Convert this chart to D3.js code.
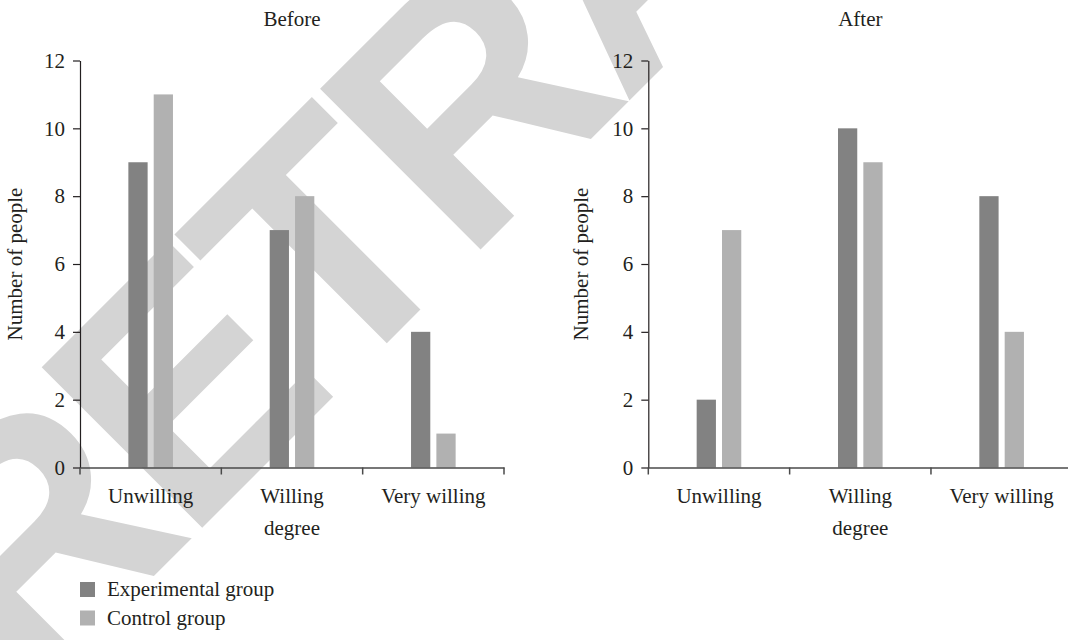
<!DOCTYPE html>
<html>
<head>
<meta charset="utf-8">
<script src="https://cdn.jsdelivr.net/npm/d3@7"></script>
<style>
  html, body { margin: 0; padding: 0; background: #fff; }
  svg { display: block; }
</style>
</head>
<body>
<svg id="chart" width="1068" height="640"></svg>
<script>
// Willingness levels on the x axis
const categories = ["Unwilling", "Willing", "Very willing"];
const groups = ["Experimental group", "Control group"];

// Number of people per willingness level, before and after
const beforeExperimental = [9, 7, 4];
const beforeControl = [11, 8, 1];
const afterExperimental = [2, 10, 8];
const afterControl = [7, 9, 4];

const yTicks = [0, 2, 4, 6, 8, 10, 12];
const panelTitles = ["Before", "After"];
const yAxisTitle = "Number of people";
const xAxisTitle = "degree";
const stampText = "RETRACTED";

const colors = { "Experimental group": "#828282", "Control group": "#b1b1b1" };
const serif = "'Liberation Serif', 'Times New Roman', serif";
const ink = "#231f20";

const svg = d3.select("#chart");

// Retraction stamp across the figure, behind the charts
svg.append("text")
  .attr("transform", "translate(28,702) rotate(-45)")
  .style("font-family", "'Liberation Sans', Arial, sans-serif")
  .style("font-weight", "bold")
  .style("font-size", "330px")
  .style("letter-spacing", "-14px")
  .style("fill", "#d4d4d4")
  .text(stampText);

const plotTop = 60.5, plotBottom = 467.5;
const y = d3.scaleLinear().domain([0, 12]).range([plotBottom, plotTop]);

function drawPanel(left, right, title, expVals, ctrlVals, labelX) {
  const g = svg.append("g");
  const x = d3.scaleBand().domain(categories).range([left, right]).padding(0);
  const bw = x.bandwidth();
  const x1 = d3.scaleBand().domain(groups)
    .range([bw / 2 - 22.3, bw / 2 + 22.3]).paddingInner(0.24);

  const rows = categories.map((c, i) => ({ c, v: [expVals[i], ctrlVals[i]] }));

  // bars
  const cat = g.selectAll("g.cat").data(rows).enter().append("g")
    .attr("transform", d => `translate(${x(d.c)},0)`);
  cat.selectAll("rect").data(d => groups.map((k, j) => ({ k, v: d.v[j] })))
    .enter().append("rect")
    .attr("x", d => x1(d.k))
    .attr("width", x1.bandwidth())
    .attr("y", d => y(d.v))
    .attr("height", d => y(0) - y(d.v))
    .attr("fill", d => colors[d.k]);

  // y axis
  const ya = g.append("g").attr("transform", `translate(${left},0)`)
    .call(d3.axisLeft(y).tickValues(yTicks).tickSize(7).tickPadding(8).tickSizeOuter(0));
  ya.attr("font-family", null).attr("font-size", null);
  ya.select(".domain").attr("stroke", ink).attr("stroke-width", 1.2);
  ya.selectAll(".tick line").attr("stroke", ink).attr("stroke-width", 1.2);
  ya.selectAll(".tick text").attr("class", "lbl");

  // x axis: baseline with ticks at the category boundaries
  const xa = g.append("g").attr("transform", `translate(0,${plotBottom})`)
    .call(d3.axisBottom(x).tickSize(0).tickPadding(35).tickSizeOuter(0));
  xa.attr("font-family", null).attr("font-size", null);
  xa.select(".domain").attr("stroke", "#4a4a4a").attr("stroke-width", 1.5);
  xa.selectAll(".tick text").attr("class", "lbl").attr("dy", 0);
  const bounds = categories.map(c => x(c)).concat([right]);
  g.selectAll("line.sep").data(bounds).enter().append("line")
    .attr("x1", d => d).attr("x2", d => d)
    .attr("y1", plotBottom).attr("y2", plotBottom + 7)
    .attr("stroke", "#4a4a4a").attr("stroke-width", 1.5);

  // panel title
  g.append("text").attr("class", "lbl").attr("x", (left + right) / 2).attr("y", 26)
    .attr("text-anchor", "middle").text(title);

  // x axis title
  g.append("text").attr("class", "lbl").attr("x", (left + right) / 2).attr("y", 535)
    .attr("text-anchor", "middle").text(xAxisTitle);

  // y axis title
  g.append("text").attr("class", "lbl")
    .attr("transform", `translate(${labelX},${(plotTop + plotBottom) / 2}) rotate(-90)`)
    .attr("text-anchor", "middle").text(yAxisTitle);
}

drawPanel(80, 504, panelTitles[0], beforeExperimental, beforeControl, 22);
drawPanel(648.3, 1072.3, panelTitles[1], afterExperimental, afterControl, 588);

// legend
const legend = svg.append("g").attr("transform", "translate(80,582)");
const li = legend.selectAll("g").data(groups).enter().append("g")
  .attr("transform", (d, i) => `translate(0,${i * 28.5})`);
li.append("rect").attr("width", 15).attr("height", 15).attr("fill", d => colors[d]);
li.append("text").attr("class", "lbl").attr("x", 27).attr("y", 14).text(d => d);

// shared text styling
svg.selectAll("text.lbl")
  .style("font-family", serif)
  .style("font-size", "21px")
  .style("fill", ink);
</script>
</body>
</html>
